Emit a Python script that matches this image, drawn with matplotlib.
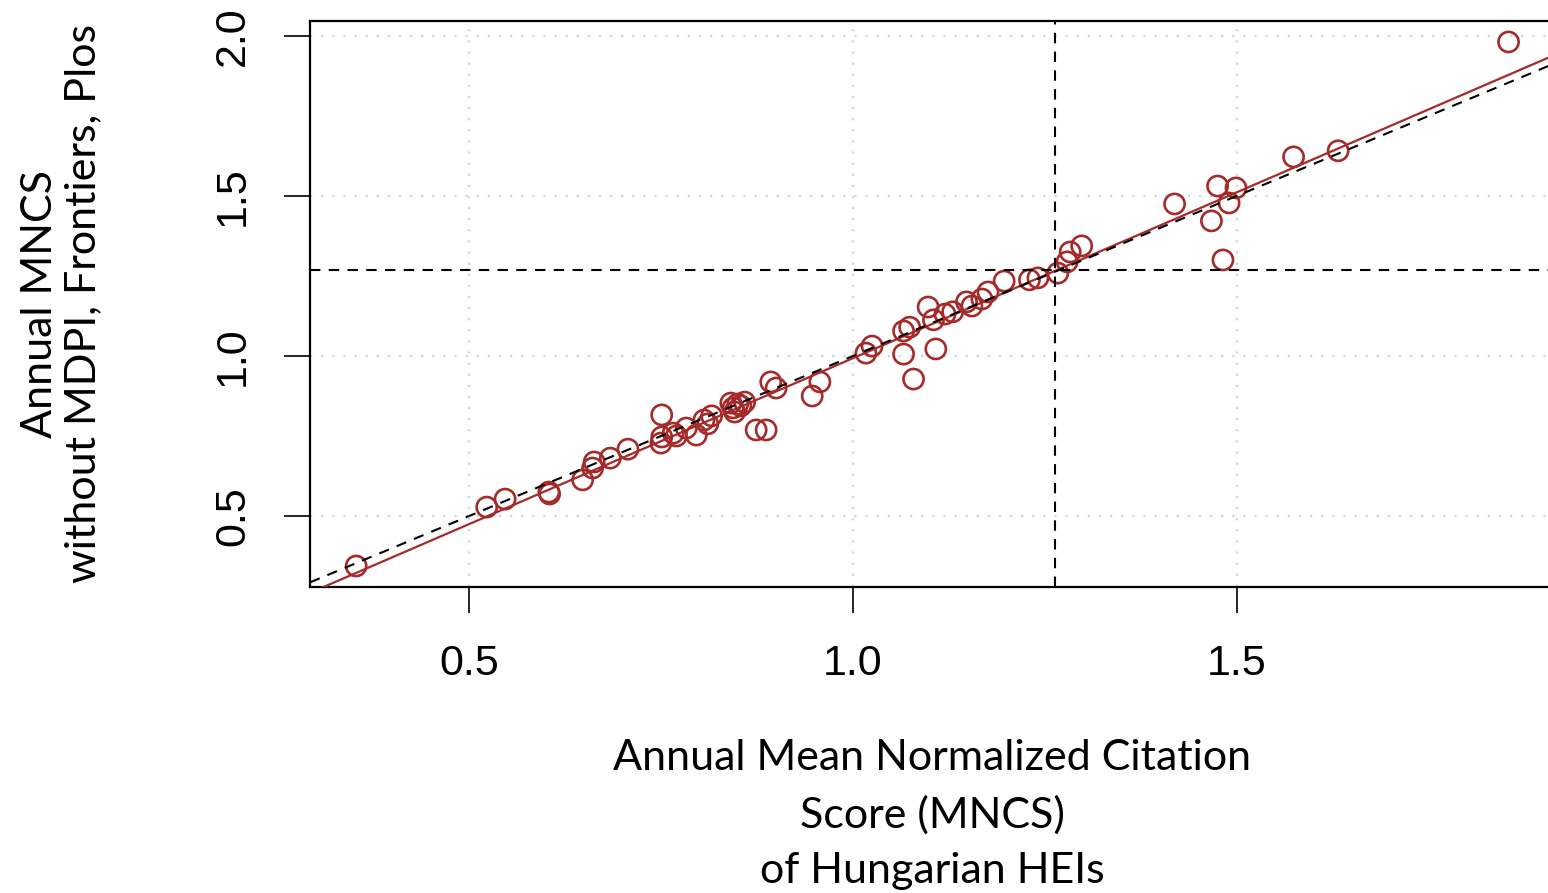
import numpy as np
import matplotlib
matplotlib.use('Agg')
import matplotlib.pyplot as plt

# Annual MNCS of Hungarian HEIs (x) vs MNCS without MDPI, Frontiers, Plos (y)
mncs_all = [0.353, 0.523, 0.547, 0.604, 0.605, 0.648, 0.661, 0.663, 0.684, 0.707,
            0.750, 0.751, 0.751, 0.766, 0.770, 0.783, 0.796, 0.806, 0.811, 0.816,
            0.841, 0.844, 0.846, 0.850, 0.854, 0.859, 0.874, 0.887, 0.893, 0.900,
            0.947, 0.957, 1.017, 1.025, 1.066, 1.066, 1.074, 1.079, 1.098, 1.108,
            1.105, 1.120, 1.130, 1.148, 1.155, 1.168, 1.176, 1.197, 1.230, 1.241,
            1.267, 1.279, 1.283, 1.298, 1.419, 1.467, 1.475, 1.482, 1.490, 1.499,
            1.574, 1.632, 1.854]
mncs_without = [0.344, 0.528, 0.553, 0.575, 0.569, 0.613, 0.650, 0.669, 0.681, 0.709,
                0.728, 0.747, 0.816, 0.759, 0.750, 0.775, 0.753, 0.800, 0.788, 0.813,
                0.853, 0.838, 0.825, 0.850, 0.844, 0.856, 0.769, 0.769, 0.919, 0.900,
                0.875, 0.919, 1.009, 1.031, 1.078, 1.006, 1.090, 0.928, 1.153, 1.022,
                1.113, 1.131, 1.138, 1.169, 1.156, 1.178, 1.200, 1.234, 1.238, 1.244,
                1.259, 1.294, 1.325, 1.344, 1.475, 1.422, 1.531, 1.300, 1.478, 1.525,
                1.622, 1.641, 1.981]

x_ref = 1.263   # vertical dashed reference
y_ref = 1.269   # horizontal dashed reference

x = np.array(mncs_all)
y = np.array(mncs_without)

col = '#A52A2A'
fig = plt.figure(figsize=(15.48, 8.93), dpi=100)
ax = fig.add_axes([0.2003, 0.3427, 0.804, 0.6338])

# R-like 4% padding
xr = x.max() - x.min()
yr = y.max() - y.min()
ax.set_xlim(x.min() - 0.04 * xr, x.max() + 0.04 * xr)
ax.set_ylim(y.min() - 0.04 * yr, y.max() + 0.04 * yr)

ax.set_xticks([0.5, 1.0, 1.5])
ax.set_yticks([0.5, 1.0, 1.5, 2.0])
ax.grid(True, color='#d3d3d3', linestyle=(0, (1, 4)), linewidth=1.6)
ax.set_axisbelow(True)

ax.scatter(x, y, s=210, facecolors='none', edgecolors=col, linewidths=1.9, zorder=3)

# regression line and identity line
b, a = np.polyfit(x, y, 1)
xx = np.array(ax.get_xlim())
ax.plot(xx, a + b * xx, color=col, linewidth=1.6, zorder=4)
ax.plot(xx, xx, color='black', linestyle=(0, (5, 4)), linewidth=1.5, zorder=4)
ax.axvline(x_ref, color='black', linestyle=(0, (5, 4)), linewidth=1.5, zorder=4)
ax.axhline(y_ref, color='black', linestyle=(0, (5, 4)), linewidth=1.5, zorder=4)
ax.set_xlim(xx)

for s in ax.spines.values():
    s.set_linewidth(1.6)
ax.tick_params(direction='out', length=19, width=1.2, labelsize=31, pad=22)
for lab in ax.get_xticklabels() + ax.get_yticklabels():
    lab.set_family('Liberation Sans')
for lab in ax.get_yticklabels():
    lab.set_rotation(90)
    lab.set_va('center')

ax.set_xlabel('Annual Mean Normalized Citation\nScore (MNCS)\nof Hungarian HEIs',
              family='Lato', fontsize=31, linespacing=1.55, labelpad=40)
ax.set_ylabel('Annual MNCS\nwithout MDPI, Frontiers, Plos',
              family='Lato', fontsize=31, linespacing=1.17, labelpad=80)

fig.savefig('out.png', dpi=100)
